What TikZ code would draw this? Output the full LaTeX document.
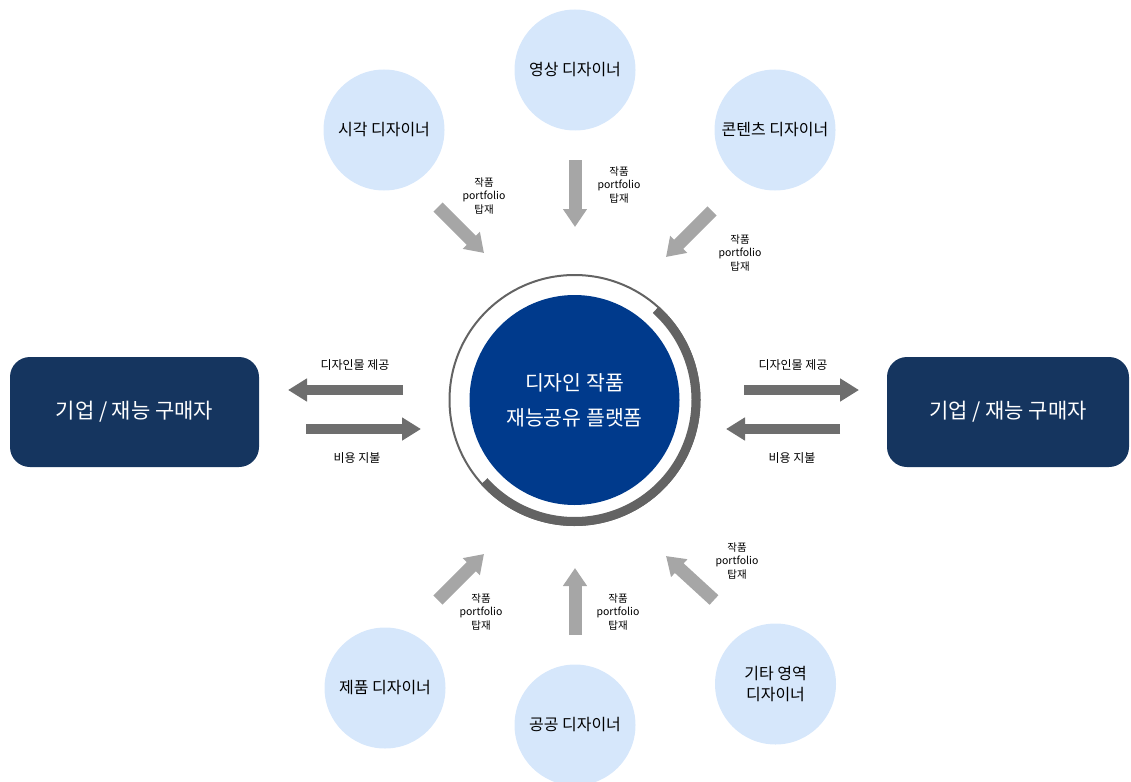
\documentclass[tikz,border=0pt]{standalone}
\usepackage{fontspec}
\setmainfont{Noto Sans CJK KR}
\usetikzlibrary{arrows.meta, positioning}

\definecolor{hubblue}{HTML}{003A8C}
\definecolor{navy}{HTML}{15355F}
\definecolor{skyfill}{HTML}{D6E7FB}
\definecolor{ringgray}{HTML}{636363}
\definecolor{arrlight}{HTML}{A6A6A6}
\definecolor{arrdark}{HTML}{6E6E6E}

\begin{document}
\begin{tikzpicture}[x=1pt, y=-1pt,
  designer/.style={circle, fill=skyfill, minimum size=121pt, inner sep=0pt,
                   align=center, text=black,
                   font=\fontsize{16}{20.5}\selectfont},
  buyer/.style={rectangle, rounded corners=20pt, fill=navy,
                minimum height=110pt, text=white,
                font=\fontsize{21}{25}\selectfont},
  hub/.style={circle, fill=hubblue, minimum size=210pt, inner sep=0pt,
              align=center, text=white, font=\fontsize{20.5}{35}\selectfont},
  tag/.style={align=center, inner sep=0pt, text=black,
              font=\fontsize{10.5}{13.5}\selectfont},
  flowlabel/.style={inner sep=0pt, text=black,
                    font=\fontsize{12}{14}\selectfont},
  upload/.style={arrlight, line width=13pt, -{Triangle[width=23pt, length=18pt]}},
  trade/.style={arrdark, line width=10pt, -{Triangle[width=22pt, length=19pt]}}
]
  \useasboundingbox (0,0) rectangle (1131,781);

  % ── Central platform ─────────────────────────────────────────
  \draw[ringgray, line width=2pt] (574.5,400) circle[radius=125];
  \draw[ringgray, line width=9pt] (574.5,400) ++(-48:121.5)
        arc[start angle=-48, end angle=138, radius=121.5];
  \node[hub] (hub) at (574.5,400) {디자인 작품\\재능공유 플랫폼};

  % ── Designer circles ─────────────────────────────────────────
  \node[designer] (video)   at (575,70)    {영상 디자이너};
  \node[designer] (visual)  at (384,130)   {시각 디자이너};
  \node[designer] (content) at (775,130)   {콘텐츠 디자이너};
  \node[designer] (product) at (385,688)   {제품 디자이너};
  \node[designer] (public)  at (575,725)   {공공 디자이너};
  \node[designer] (other)   at (775.5,684) {기타 영역\\디자이너};

  % ── Buyer boxes ──────────────────────────────────────────────
  \node[buyer, minimum width=249pt] (buyerL) at (134.5,412) {기업 / 재능 구매자};
  \node[buyer, minimum width=242pt] (buyerR) at (1008,412)  {기업 / 재능 구매자};

  % ── Arrow ends ───────────────────────────────────────────────
  \coordinate (tl0) at (438,207);  \coordinate (tl1) at (484,253);
  \coordinate (tm0) at (575,160);  \coordinate (tm1) at (575,227);
  \coordinate (tr0) at (712,211);  \coordinate (tr1) at (666,257);
  \coordinate (bl0) at (438,600);  \coordinate (bl1) at (484,554);
  \coordinate (bm0) at (575,635);  \coordinate (bm1) at (575,568);
  \coordinate (br0) at (714,600);  \coordinate (br1) at (666,556);

  \coordinate (lo0) at (403,390);  \coordinate (lo1) at (288,390);
  \coordinate (li0) at (306,429);  \coordinate (li1) at (421,429);
  \coordinate (ro0) at (744,390);  \coordinate (ro1) at (859,390);
  \coordinate (ri0) at (840,429);  \coordinate (ri1) at (726,429);

  % ── Portfolio uploads ────────────────────────────────────────
  \foreach \a/\b in {tl0/tl1, tm0/tm1, tr0/tr1, bl0/bl1, bm0/bm1, br0/br1}
    \draw[upload] (\a) -- (\b);

  \node[tag] (tagTL) at (484,196) {작품\\portfolio\\탑재};
  \node[tag] (tagTM) at (619,185) {작품\\portfolio\\탑재};
  \node[tag] (tagTR) at (740,253) {작품\\portfolio\\탑재};
  \node[tag] (tagBL) at (481,612) {작품\\portfolio\\탑재};
  \node[tag] (tagBM) at (618,612) {작품\\portfolio\\탑재};
  \node[tag] (tagBR) at (737,561) {작품\\portfolio\\탑재};

  % ── Trade with buyers ────────────────────────────────────────
  \foreach \a/\b in {lo0/lo1, li0/li1, ro0/ro1, ri0/ri1}
    \draw[trade] (\a) -- (\b);

  \node[flowlabel] (supplyL) at (355,365) {디자인물 제공};
  \node[flowlabel] (payL)    at (357,458) {비용 지불};
  \node[flowlabel] (supplyR) at (793,365) {디자인물 제공};
  \node[flowlabel] (payR)    at (792,458) {비용 지불};

\end{tikzpicture}
\end{document}
